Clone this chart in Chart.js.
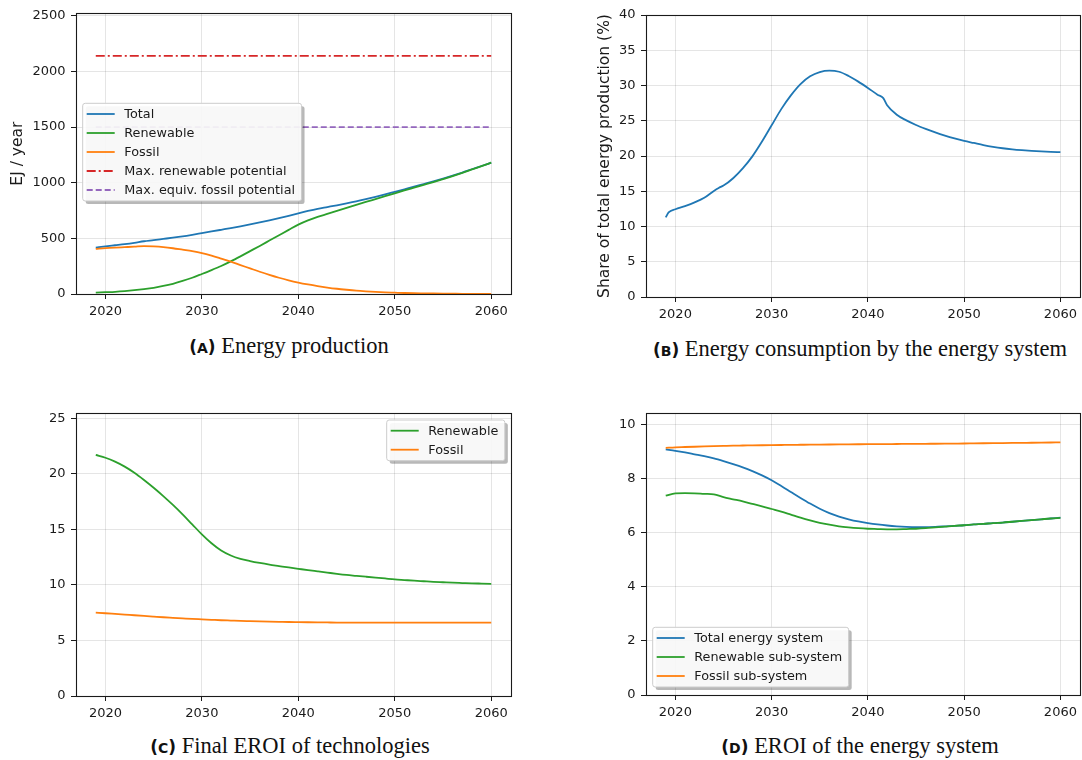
<!DOCTYPE html>
<html>
<head>
<meta charset="utf-8">
<script src="https://cdn.jsdelivr.net/npm/chart.js@4.4.1/dist/chart.umd.min.js"></script>
<style>
  html, body { margin: 0; padding: 0; background: #fff; }
  #page { position: relative; width: 1082px; height: 760px; overflow: hidden; }
  canvas { position: absolute; }
  .cap { position: absolute; width: 460px; text-align: center; white-space: nowrap;
         font-family: 'Liberation Serif', serif; font-size: 22.5px; line-height: 1; color: #111; }
  .cap .tag { font-family: 'DejaVu Sans', sans-serif; font-weight: bold; font-size: 17px; }
  .cap .tag .sc { font-size: 14px; }
</style>
</head>
<body>
<div id="page">
  <canvas id="chartA" width="530" height="325" style="left:0;top:0"></canvas>
  <canvas id="chartB" width="542" height="325" style="left:540px;top:0"></canvas>
  <canvas id="chartC" width="530" height="325" style="left:0;top:400px"></canvas>
  <canvas id="chartD" width="542" height="325" style="left:540px;top:400px"></canvas>

  <div class="cap" style="left:59px;top:335px"><span class="tag">(<span class="sc">A</span>)</span> Energy production</div>
  <div class="cap" style="left:630px;top:338px"><span class="tag">(<span class="sc">B</span>)</span> Energy consumption by the energy system</div>
  <div class="cap" style="left:60px;top:735px"><span class="tag">(<span class="sc">C</span>)</span> Final EROI of technologies</div>
  <div class="cap" style="left:630px;top:735px"><span class="tag">(<span class="sc">D</span>)</span> EROI of the energy system</div>
</div>

<script>
/* ── Energy transition panels ─────────────────────────────────────────────── */

// ── Data ──────────────────────────────────────────────────────────────────────
const YEARS = [2019, 2020, 2021, 2022, 2023, 2024, 2025, 2026, 2027, 2028,
               2029, 2030, 2031, 2032, 2033, 2034, 2035, 2036, 2037, 2038,
               2039, 2040, 2041, 2042, 2043, 2044, 2045, 2046, 2047, 2048,
               2049, 2050, 2051, 2052, 2053, 2054, 2055, 2056, 2057, 2058,
               2059, 2060];

// (A) production, EJ / year
const PROD_TOTAL     = [417, 428, 438, 448, 460, 474, 484, 495, 506, 518,
                        532, 547, 562, 577, 592, 608, 625, 643, 662, 682,
                        703, 725, 746, 765, 781, 797, 814, 832, 852, 873,
                        895, 918, 941, 964, 988, 1012, 1037, 1063, 1091, 1121,
                        1150, 1180];
const PROD_RENEWABLE = [12, 16, 20, 26, 34, 44, 56, 72, 92, 117,
                        146, 180, 215, 252, 293, 338, 385, 432, 480, 528,
                        576, 623, 661, 693, 719, 746, 773, 800, 827, 853,
                        879, 905, 931, 956, 981, 1006, 1032, 1060, 1089, 1119,
                        1149, 1180];
const PROD_FOSSIL    = [405, 412, 417, 421, 425, 430, 427, 421, 411, 398,
                        385, 368, 345, 318, 290, 260, 230, 200, 172, 146,
                        123, 103, 86, 71, 58, 47, 38, 30, 24, 19,
                        15, 12, 9, 7, 6, 5, 4, 3, 2, 2,
                        1, 0];
const POT_YEARS      = [2019, 2060];
const POT_RENEWABLE  = [2140, 2140];
const POT_FOSSIL     = [1500, 1500];

// (B) share of production used by the energy system, %
const SHARE_YEARS = [2019, 2019.3, 2020, 2021, 2022, 2023, 2024, 2024.5, 2025, 2026,
                     2027, 2028, 2029, 2030, 2031, 2032, 2033, 2034, 2035, 2036,
                     2037, 2038, 2039, 2040, 2041, 2041.6, 2042, 2043, 2044, 2045,
                     2046, 2047, 2048, 2049, 2050, 2051, 2052, 2053, 2054, 2055,
                     2056, 2057, 2058, 2059, 2060];
const SHARE_SELF  = [11.3, 12.0, 12.45, 12.9, 13.42, 14.07, 15.05, 15.47, 15.8, 16.85,
                     18.25, 19.95, 22.05, 24.35, 26.65, 28.6, 30.2, 31.3, 31.9, 32.1,
                     31.95, 31.35, 30.55, 29.65, 28.7, 28.2, 27.2, 25.85, 25.05, 24.4,
                     23.85, 23.35, 22.9, 22.5, 22.15, 21.85, 21.55, 21.3, 21.1, 20.95,
                     20.83, 20.73, 20.65, 20.59, 20.55];

// (C) final EROI of technologies
const EROI_TECH_RENEWABLE = [21.7, 21.45, 21.1, 20.65, 20.1, 19.45, 18.75, 18.0, 17.2, 16.35,
                             15.45, 14.55, 13.75, 13.1, 12.65, 12.35, 12.15, 11.98, 11.83, 11.7,
                             11.57, 11.45, 11.33, 11.22, 11.11, 11.0, 10.9, 10.82, 10.74, 10.66,
                             10.58, 10.5, 10.44, 10.38, 10.33, 10.28, 10.24, 10.2, 10.17, 10.14,
                             10.12, 10.1];
const EROI_TECH_FOSSIL    = [7.5, 7.45, 7.39, 7.33, 7.27, 7.21, 7.15, 7.09, 7.04, 6.99,
                             6.94, 6.9, 6.86, 6.82, 6.79, 6.76, 6.74, 6.72, 6.7, 6.68,
                             6.66, 6.65, 6.64, 6.63, 6.62, 6.61, 6.61, 6.6, 6.6, 6.6,
                             6.6, 6.6, 6.6, 6.6, 6.6, 6.6, 6.6, 6.6, 6.6, 6.6,
                             6.6, 6.6];

// (D) EROI of the energy system
const EROI_SYS_TOTAL     = [9.07, 9.02, 8.96, 8.89, 8.82, 8.74, 8.64, 8.53, 8.41, 8.27,
                            8.11, 7.93, 7.72, 7.5, 7.28, 7.07, 6.88, 6.72, 6.59, 6.49,
                            6.41, 6.35, 6.3, 6.26, 6.23, 6.21, 6.2, 6.2, 6.21, 6.23,
                            6.25, 6.27, 6.3, 6.32, 6.35, 6.37, 6.4, 6.43, 6.46, 6.49,
                            6.52, 6.55];
const EROI_SYS_RENEWABLE = [7.36, 7.45, 7.46, 7.45, 7.43, 7.41, 7.31, 7.23, 7.15, 7.06,
                            6.97, 6.87, 6.77, 6.66, 6.55, 6.45, 6.36, 6.29, 6.23, 6.19,
                            6.16, 6.14, 6.13, 6.12, 6.12, 6.13, 6.14, 6.16, 6.19, 6.22,
                            6.25, 6.27, 6.3, 6.32, 6.35, 6.37, 6.4, 6.43, 6.46, 6.49,
                            6.52, 6.54];
const EROI_SYS_FOSSIL    = [9.13, 9.15, 9.16, 9.17, 9.18, 9.19, 9.2, 9.21, 9.215, 9.22,
                            9.225, 9.23, 9.235, 9.24, 9.243, 9.246, 9.25, 9.253, 9.256, 9.259,
                            9.262, 9.265, 9.267, 9.269, 9.271, 9.273, 9.275, 9.278, 9.281, 9.284,
                            9.287, 9.29, 9.294, 9.298, 9.302, 9.306, 9.31, 9.314, 9.318, 9.322,
                            9.326, 9.33];

// ── Tick labels ───────────────────────────────────────────────────────────────
const X_TICKS   = [2020, 2030, 2040, 2050, 2060];
const Y_TICKS_A = [0, 500, 1000, 1500, 2000, 2500];
const Y_TICKS_B = [0, 5, 10, 15, 20, 25, 30, 35, 40];
const Y_TICKS_C = [0, 5, 10, 15, 20, 25];
const Y_TICKS_D = [0, 2, 4, 6, 8, 10];

// ── Style ─────────────────────────────────────────────────────────────────────
const C_BLUE = '#1f77b4', C_GREEN = '#2ca02c', C_ORANGE = '#ff7f0e',
      C_RED  = '#d62728', C_PURPLE = '#9467bd';
const INK   = '#1a1a1a';
const GRID  = 'rgba(0,0,0,0.10)';
const LINE_W = 1.8;
const TICK_FONT  = { family: 'DejaVu Sans', size: 13 };
const TITLE_FONT = { family: 'DejaVu Sans', size: 15.5 };
const LEGEND_FONT = '12.8px "DejaVu Sans"';
const X_MIN = 2016.95, X_MAX = 2062.05;

Chart.defaults.font.family = 'DejaVu Sans';

// ── Helpers ───────────────────────────────────────────────────────────────────
function pts(xs, ys) { return xs.map((x, i) => ({ x, y: ys[i] })); }

function series(label, xs, ys, color, dash) {
  return {
    label, data: pts(xs, ys),
    borderColor: color, backgroundColor: color,
    borderWidth: LINE_W, borderDash: dash || [],
    pointRadius: 0, fill: false,
    cubicInterpolationMode: 'monotone',
  };
}

function roundRect(ctx, x, y, w, h, r) {
  ctx.beginPath();
  ctx.moveTo(x + r, y);
  ctx.lineTo(x + w - r, y); ctx.quadraticCurveTo(x + w, y, x + w, y + r);
  ctx.lineTo(x + w, y + h - r); ctx.quadraticCurveTo(x + w, y + h, x + w - r, y + h);
  ctx.lineTo(x + r, y + h); ctx.quadraticCurveTo(x, y + h, x, y + h - r);
  ctx.lineTo(x, y + r); ctx.quadraticCurveTo(x, y, x + r, y);
  ctx.closePath();
}

// ── Plugins: four-sided frame + matplotlib-like legend box ────────────────────
const frame = {
  id: 'frame',
  afterDatasetsDraw(chart) {
    const { ctx, chartArea: a } = chart;
    ctx.save();
    ctx.strokeStyle = INK;
    ctx.lineWidth = 1.1;
    ctx.strokeRect(Math.round(a.left) + 0.5, Math.round(a.top) + 0.5,
                   Math.round(a.right - a.left), Math.round(a.bottom - a.top));
    ctx.restore();
  }
};

const boxLegend = {
  id: 'boxLegend',
  afterDraw(chart, args, opts) {
    if (!opts || opts.left == null) return;
    const ctx  = chart.ctx;
    const sets = chart.data.datasets;
    const ROW  = 19;
    ctx.save();
    ctx.font = LEGEND_FONT;
    const textW = Math.max(...sets.map(d => ctx.measureText(d.label).width));
    const x0 = opts.left, y0 = opts.top;
    const w  = 41.6 + textW + 6.5;
    const h  = 10.7 + (sets.length - 1) * ROW + 11;

    // shadow
    ctx.fillStyle = 'rgba(0,0,0,0.28)';
    roundRect(ctx, x0 + 3, y0 + 3, w, h, 2.5);
    ctx.fill();
    // box
    ctx.fillStyle = 'rgba(255,255,255,0.9)';
    ctx.strokeStyle = '#cccccc';
    ctx.lineWidth = 1;
    roundRect(ctx, x0, y0, w, h, 2.5);
    ctx.fill();
    ctx.stroke();

    sets.forEach((d, i) => {
      const y = y0 + 10.7 + i * ROW;
      ctx.strokeStyle = d.borderColor;
      ctx.lineWidth = LINE_W;
      ctx.setLineDash(d.borderDash || []);
      ctx.beginPath();
      ctx.moveTo(x0 + 4, y);
      ctx.lineTo(x0 + 32, y);
      ctx.stroke();
      ctx.setLineDash([]);
      ctx.fillStyle = INK;
      ctx.textAlign = 'left';
      ctx.textBaseline = 'middle';
      ctx.fillText(d.label, x0 + 41.6, y + 0.5);
    });
    ctx.restore();
  }
};

// ── Panel factory ─────────────────────────────────────────────────────────────
function makePanel(id, p) {
  p.datasets.forEach((d, i) => { d.order = p.datasets.length - i; });
  return new Chart(document.getElementById(id), {
    type: 'line',
    data: { datasets: p.datasets },
    options: {
      responsive: false,
      animation: false,
      events: [],
      layout: { padding: { top: p.padTop, right: p.padRight, bottom: 0, left: 0 } },
      plugins: {
        legend:  { display: false },
        tooltip: { enabled: false },
        boxLegend: p.legend || {},
      },
      scales: {
        x: {
          type: 'linear', min: X_MIN, max: X_MAX,
          afterBuildTicks: s => { s.ticks = X_TICKS.map(v => ({ value: v })); },
          afterFit: s => { s.height = p.xHeight; },
          grid:   { color: GRID, tickColor: INK, tickLength: 5 },
          border: { display: false },
          ticks:  { color: INK, font: TICK_FONT, padding: 5, maxRotation: 0,
                    callback: v => String(v) },
        },
        y: {
          type: 'linear', min: 0, max: p.yMax,
          afterBuildTicks: s => { s.ticks = p.yTicks.map(v => ({ value: v })); },
          afterFit: s => { s.width = p.yWidth; },
          grid:   { color: GRID, tickColor: INK, tickLength: 5 },
          border: { display: false },
          ticks:  { color: INK, font: TICK_FONT, padding: 5.5,
                    callback: v => String(v) },
          title:  p.yTitle
            ? { display: true, text: p.yTitle, color: INK, font: TITLE_FONT,
                padding: { top: p.titlePad, bottom: 0 } }
            : { display: false },
        },
      },
    },
    plugins: [frame, boxLegend],
  });
}

// ── (A) Energy production ─────────────────────────────────────────────────────
makePanel('chartA', {
  padTop: 13, padRight: 19, xHeight: 31, yWidth: 76,
  yMax: 2522, yTicks: Y_TICKS_A,
  yTitle: 'EJ / year', titlePad: 9,
  legend: { left: 82.7, top: 103.3 },
  datasets: [
    series('Total', YEARS, PROD_TOTAL, C_BLUE),
    series('Renewable', YEARS, PROD_RENEWABLE, C_GREEN),
    series('Fossil', YEARS, PROD_FOSSIL, C_ORANGE),
    series('Max. renewable potential', POT_YEARS, POT_RENEWABLE, C_RED, [9, 3, 2, 3]),
    series('Max. equiv. fossil potential', POT_YEARS, POT_FOSSIL, C_PURPLE, [6, 3]),
  ],
});

// ── (B) Energy consumption by the energy system ───────────────────────────────
makePanel('chartB', {
  padTop: 15, padRight: 1, xHeight: 28, yWidth: 106,
  yMax: 40, yTicks: Y_TICKS_B,
  yTitle: 'Share of total energy production (%)', titlePad: 56,
  datasets: [
    series('Share', SHARE_YEARS, SHARE_SELF, C_BLUE),
  ],
});

// ── (C) Final EROI of technologies ────────────────────────────────────────────
makePanel('chartC', {
  padTop: 13, padRight: 19, xHeight: 29, yWidth: 76,
  yMax: 25.45, yTicks: Y_TICKS_C,
  legend: { left: 386.7, top: 20 },
  datasets: [
    series('Renewable', YEARS, EROI_TECH_RENEWABLE, C_GREEN),
    series('Fossil', YEARS, EROI_TECH_FOSSIL, C_ORANGE),
  ],
});

// ── (D) EROI of the energy system ─────────────────────────────────────────────
makePanel('chartD', {
  padTop: 12, padRight: 1, xHeight: 30, yWidth: 106,
  yMax: 10.405, yTicks: Y_TICKS_D,
  legend: { left: 112.7, top: 227.3 },
  datasets: [
    series('Total energy system', YEARS, EROI_SYS_TOTAL, C_BLUE),
    series('Renewable sub-system', YEARS, EROI_SYS_RENEWABLE, C_GREEN),
    series('Fossil sub-system', YEARS, EROI_SYS_FOSSIL, C_ORANGE),
  ],
});
</script>
</body>
</html>
